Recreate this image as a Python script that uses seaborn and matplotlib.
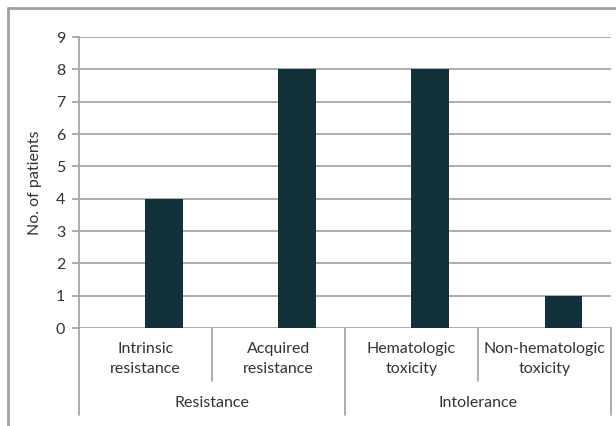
import matplotlib.pyplot as plt
import matplotlib.transforms as mtrans
from matplotlib.lines import Line2D
import seaborn as sns
import pandas as pd

# data
categories = ["Intrinsic\nresistance", "Acquired\nresistance",
              "Hematologic\ntoxicity", "Non-hematologic\ntoxicity"]
patients = [4, 8, 8, 1]
groups = ["Resistance", "Intolerance"]
group_sizes = [2, 2]
yticks = [0, 1, 2, 3, 4, 5, 6, 7, 8, 9]

df = pd.DataFrame({"cat": categories, "n": patients, "series": "Patients"})

sns.set_style("white")
plt.rcParams['font.family'] = ['Lato', 'DejaVu Sans']
txt = "#333333"
grey = "#a6a6a6"
fs = 11.5

fig = plt.figure(figsize=(6.16, 4.26), dpi=100)
ax = fig.add_axes([0.1282, 0.23, 0.8637, 0.6831])

# an empty first series so the bar sits right of the category centre (Excel style)
sns.barplot(data=df, x="cat", y="n", hue="series", hue_order=["_", "Patients"],
            palette={"_": "white", "Patients": "#0b3540"}, width=0.571, gap=0,
            dodge=True, legend=False, ax=ax, zorder=3, linewidth=0)

ax.set_ylim(0, 9)
ax.set_xlim(-0.5, len(categories) - 0.5)
ax.set_yticks(yticks)
ax.yaxis.grid(True, color=grey, lw=1.3)
ax.set_axisbelow(True)
for s in ["top", "right", "bottom"]:
    ax.spines[s].set_visible(False)
ax.spines["left"].set_color(grey)
ax.spines["left"].set_linewidth(1.3)
ax.tick_params(axis="y", length=5, width=1.3, color=grey, labelsize=fs,
               labelcolor=txt, pad=5, left=True)
ax.set_ylabel("No. of patients", fontsize=fs, color=txt, labelpad=10)
ax.set_xlabel("")

ax.set_xticks(range(len(categories)))
ax.set_xticklabels(categories, fontsize=fs, color=txt, linespacing=1.55)
ax.tick_params(axis="x", length=0, pad=10)

# multi-level category separators
tr = mtrans.blended_transform_factory(ax.transData, ax.transAxes)
inner_low, outer_low = -0.182, -0.299
bounds = [0]
for g in group_sizes:
    bounds.append(bounds[-1] + g)
for i in range(len(categories) + 1):
    x = i - 0.5
    low = outer_low if i in bounds else inner_low
    ax.plot([x, x], [0, low], transform=tr, color=grey, lw=1.3, clip_on=False)

start = 0
for g, size in zip(groups, group_sizes):
    ax.text(start + size / 2 - 0.5, -0.258, g, transform=tr, ha="center",
            va="center", fontsize=fs, color=txt)
    start += size

# chart frame (cropped at right and bottom)
fig.add_artist(Line2D([0.013, 0.013], [0, 0.981], color="#a0a0a0", lw=2,
                      transform=fig.transFigure))
fig.add_artist(Line2D([0.013, 1], [0.981, 0.981], color="#a0a0a0", lw=2,
                      transform=fig.transFigure))

fig.savefig("out.png", dpi=100)
